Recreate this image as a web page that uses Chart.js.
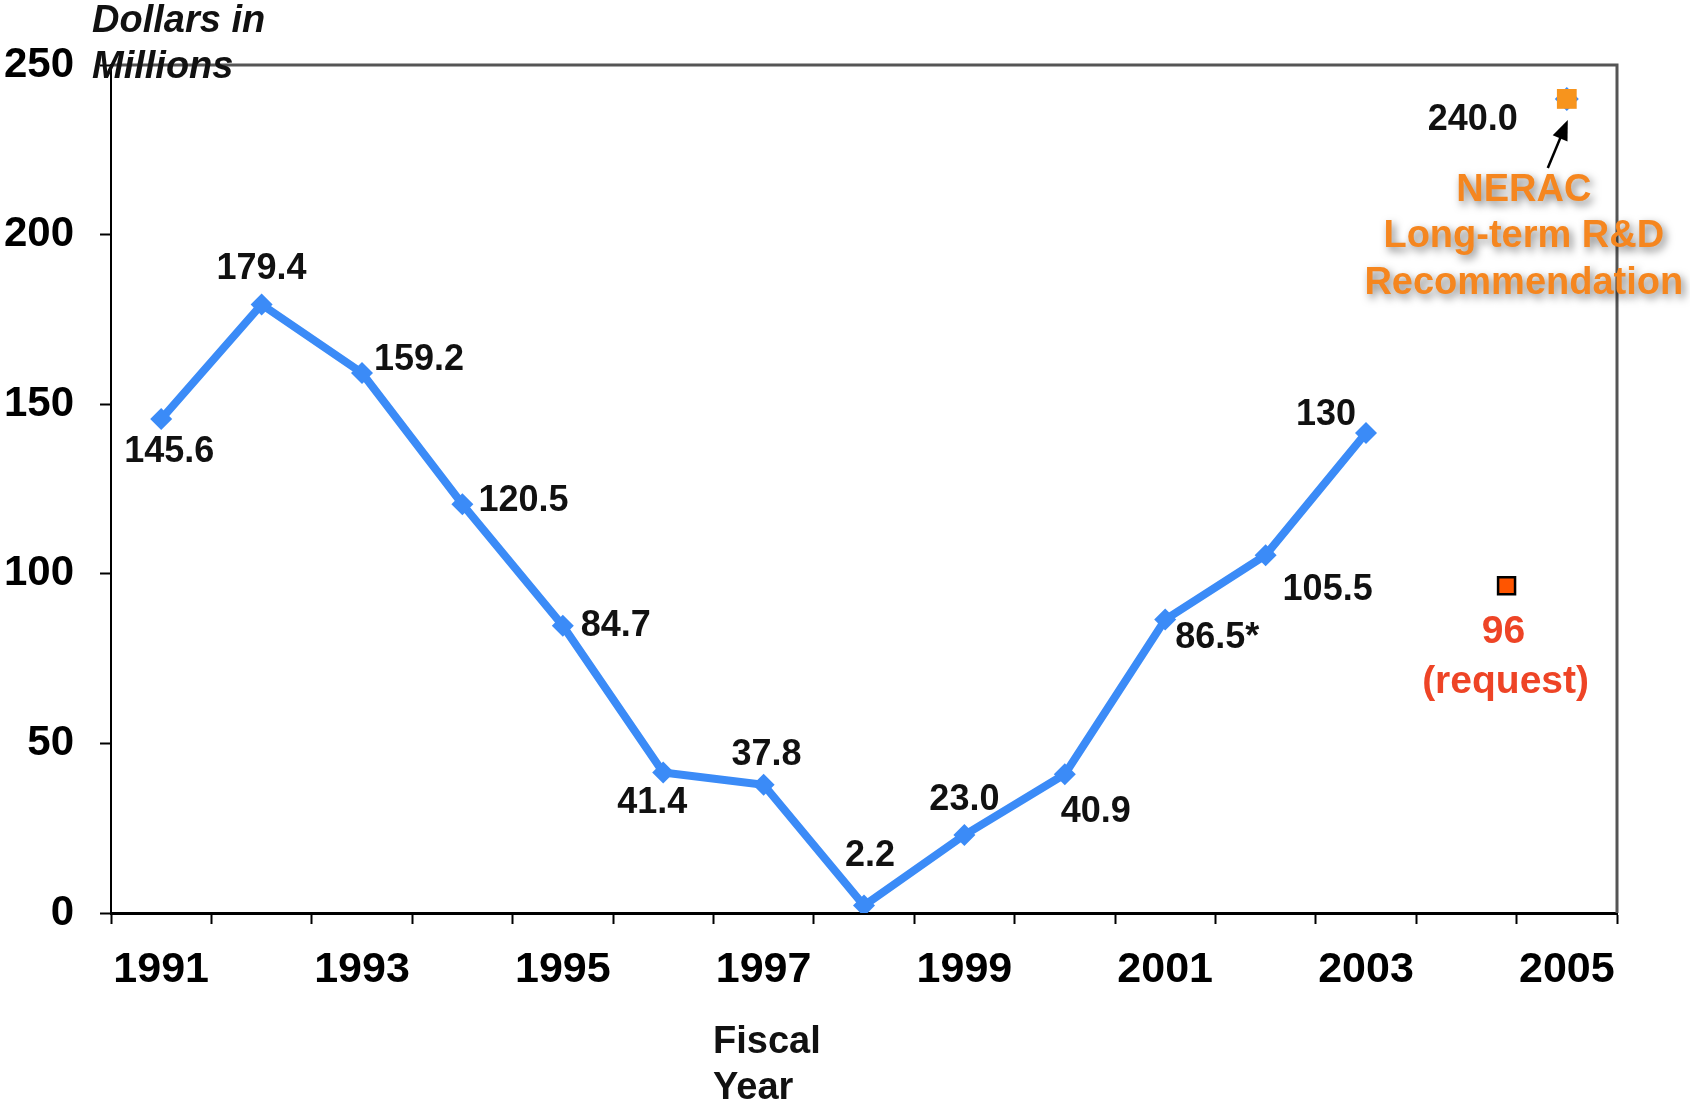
<!DOCTYPE html>
<html>
<head>
<meta charset="utf-8">
<script src="https://cdn.jsdelivr.net/npm/chart.js@4.4.0/dist/chart.umd.min.js"></script>
<style>
html,body{margin:0;padding:0;background:#fff;}
#wrap{width:1690px;height:1105px;position:relative;}
</style>
</head>
<body>
<div id="wrap"><canvas id="c"></canvas></div>
<script>
// ---- data ----
const allYears = [1991,1992,1993,1994,1995,1996,1997,1998,1999,2000,2001,2002,2003,2004,2005];
const yearTickLabels = [1991,1993,1995,1997,1999,2001,2003,2005];
const yTickValues = [0,50,100,150,200,250];

const fundingYears  = [1991,1992,1993,1994,1995,1996,1997,1998,1999,2000,2001,2002,2003];
const fundingValues = [145.6,179.4,159.2,120.5,84.7,41.4,37.8,2.2,23.0,40.9,86.5,105.5,141.5];
const fundingLabels = ['145.6','179.4','159.2','120.5','84.7','41.4','37.8','2.2','23.0','40.9','86.5*','105.5','130'];

const neracYears  = [2005];
const neracValues = [240.0];
const neracLabels = ['240.0'];
const neracNote   = ['NERAC','Long-term R&D','Recommendation'];

const requestYears  = [2004.4];
const requestValues = [96.5];
const requestNote   = ['96','(request)'];

const yTitle = ['Dollars in','Millions'];
const xTitle = ['Fiscal','Year'];

// ---- label placement (style) ----
const fundingLabelPos = [
  {dx:8,dy:33,a:'center'},{dx:0,dy:-35,a:'center'},{dx:12,dy:-13,a:'left'},
  {dx:16,dy:-3,a:'left'},{dx:18,dy:0,a:'left'},{dx:-11,dy:31,a:'center'},
  {dx:3,dy:-30,a:'center'},{dx:6,dy:-49,a:'center'},{dx:0,dy:-35,a:'center'},
  {dx:-4,dy:38,a:'left'},{dx:10,dy:18,a:'left'},{dx:17,dy:35,a:'left'},
  {dx:-40,dy:-18,a:'center'}
];

const BLUE = 'rgb(59,139,247)';
const ORANGE = '#F5861F';
const LABEL_FONT = 'bold 36px "Liberation Sans", Arial, sans-serif';

const toXY = (xs, ys) => xs.map((x,i)=>({x:x, y:ys[i]}));

const annotate = {
  id:'annotate',
  afterDatasetsDraw(chart){
    const ctx = chart.ctx;
    const ca = chart.chartArea;
    ctx.save();
    // frame top/right
    ctx.strokeStyle = '#555';
    ctx.lineWidth = 3;
    ctx.beginPath();
    ctx.moveTo(ca.left, ca.top);
    ctx.lineTo(ca.right, ca.top);
    ctx.lineTo(ca.right, ca.bottom);
    ctx.stroke();

    // funding labels
    ctx.font = LABEL_FONT;
    ctx.fillStyle = '#111';
    ctx.textBaseline = 'middle';
    const m0 = chart.getDatasetMeta(0);
    m0.data.forEach((p,i)=>{
      const o = fundingLabelPos[i];
      ctx.textAlign = o.a;
      ctx.fillText(fundingLabels[i], p.x + o.dx, p.y + o.dy);
    });

    // NERAC point label + arrow + note
    const pN = chart.getDatasetMeta(2).data[0];
    ctx.textAlign = 'center';
    ctx.fillText(neracLabels[0], pN.x - 94, pN.y + 21);
    const tx = pN.x + 1, ty = pN.y + 21, sx = pN.x - 19, sy = pN.y + 69;
    const ang = Math.atan2(ty - sy, tx - sx);
    ctx.strokeStyle = '#000'; ctx.fillStyle = '#000'; ctx.lineWidth = 2.5;
    ctx.beginPath(); ctx.moveTo(sx, sy);
    ctx.lineTo(tx - 16*Math.cos(ang), ty - 16*Math.sin(ang)); ctx.stroke();
    ctx.beginPath();
    ctx.moveTo(tx, ty);
    ctx.lineTo(tx - 20*Math.cos(ang) + 8*Math.sin(ang), ty - 20*Math.sin(ang) - 8*Math.cos(ang));
    ctx.lineTo(tx - 20*Math.cos(ang) - 8*Math.sin(ang), ty - 20*Math.sin(ang) + 8*Math.cos(ang));
    ctx.closePath(); ctx.fill();

    ctx.save();
    ctx.font = 'bold 38px "Liberation Sans", Arial, sans-serif';
    ctx.fillStyle = ORANGE;
    ctx.shadowColor = 'rgba(0,0,0,0.5)';
    ctx.shadowBlur = 8; ctx.shadowOffsetX = 3; ctx.shadowOffsetY = 4;
    const noteDy = [92,138,185];
    neracNote.forEach((t,i)=> ctx.fillText(t, pN.x - 43, pN.y + noteDy[i]));
    ctx.restore();

    // request note
    const pR = chart.getDatasetMeta(3).data[0];
    ctx.font = 'bold 39px "Liberation Sans", Arial, sans-serif';
    ctx.fillStyle = '#EE4426';
    ctx.textAlign = 'center';
    ctx.fillText(requestNote[0], pR.x - 3, pR.y + 47);
    ctx.fillText(requestNote[1], pR.x - 1, pR.y + 97);

    // axis titles
    ctx.fillStyle = '#111';
    ctx.textBaseline = 'alphabetic';
    ctx.textAlign = 'left';
    ctx.font = 'italic bold 38px "Liberation Sans", Arial, sans-serif';
    ctx.fillText(yTitle[0], 92, 32);
    ctx.fillText(yTitle[1], 92, 78);
    ctx.font = 'bold 38px "Liberation Sans", Arial, sans-serif';
    ctx.fillText(xTitle[0], 713, 1053);
    ctx.fillText(xTitle[1], 713, 1099);
    ctx.restore();
  }
};

new Chart(document.getElementById('c'), {
  type:'line',
  data:{
    datasets:[
      {
        data: toXY(fundingYears, fundingValues),
        borderColor: BLUE, backgroundColor: BLUE,
        borderWidth: 8, tension: 0,
        pointStyle:'rectRot', pointRadius: 11, pointBorderWidth: 0,
        pointBackgroundColor: BLUE, order: 3
      },
      {
        data: toXY(neracYears, neracValues),
        showLine:false, pointStyle:'rectRot', pointRadius: 12, pointBorderWidth:0,
        pointBackgroundColor: BLUE, order: 2
      },
      {
        data: toXY(neracYears, neracValues),
        showLine:false, pointStyle:'rect', pointRadius: 14, pointBorderWidth:0,
        pointBackgroundColor: '#F7941D', order: 1
      },
      {
        data: toXY(requestYears, requestValues),
        showLine:false, pointStyle:'rect', pointRadius: 12, pointBorderWidth:2.5,
        pointBorderColor:'#000', pointBackgroundColor: '#FF5500', order: 0
      }
    ]
  },
  options:{
    responsive:true, maintainAspectRatio:false, animation:false, events:[],
    layout:{padding:{top:65,right:73,bottom:0,left:0}},
    plugins:{legend:{display:false}, tooltip:{enabled:false}},
    scales:{
      x:{
        type:'linear', min: allYears[0]-0.5, max: allYears[allYears.length-1]+0.5,
        afterBuildTicks: s => {
          const t = [];
          allYears.forEach(y => { t.push({value:y-0.5}); t.push({value:y}); });
          t.push({value: allYears[allYears.length-1]+0.5});
          s.ticks = t;
        },
        afterFit: s => { s.height = 192; },
        ticks:{
          autoSkip:false, maxRotation:0, minRotation:0, padding:20, color:'#000',
          font:{family:'"Liberation Sans", Arial', weight:'bold', size:43},
          callback: v => yearTickLabels.includes(v) ? String(v) : ''
        },
        grid:{
          drawOnChartArea:false, drawTicks:true, tickLength:11, tickWidth:2,
          tickColor: c => (c.tick && Number.isInteger(c.tick.value)) ? 'rgba(0,0,0,0)' : '#000'
        },
        border:{display:true, color:'#000', width:3}
      },
      y:{
        min:0, max:250,
        afterBuildTicks: s => { s.ticks = yTickValues.map(v=>({value:v})); },
        afterFit: s => { s.width = 111; },
        ticks:{
          padding:26, color:'#000',
          font:{family:'"Liberation Sans", Arial', weight:'bold', size:42}
        },
        grid:{drawOnChartArea:false, drawTicks:true, tickLength:11, tickWidth:2, tickColor:'#000'},
        border:{display:true, color:'#000', width:2}
      }
    }
  },
  plugins:[annotate]
});
</script>
</body>
</html>
